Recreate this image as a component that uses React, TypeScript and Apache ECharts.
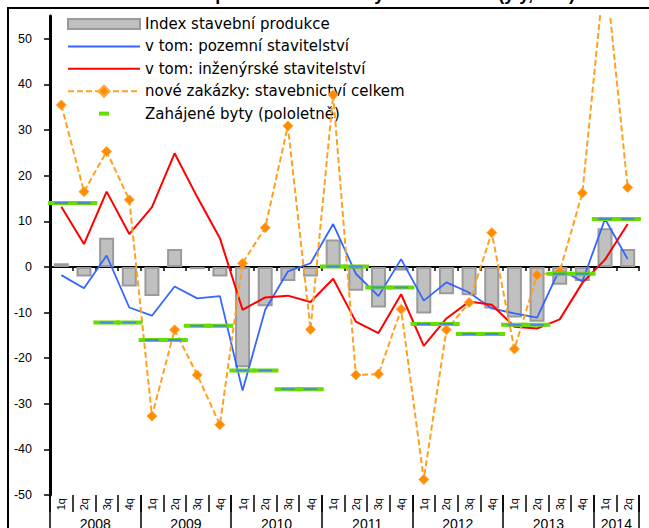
import React, { useEffect, useRef } from 'react';
import * as echarts from 'echarts';

const years = ['2008', '2009', '2010', '2011', '2012', '2013', '2014'];
const quartersPerYear = [4, 4, 4, 4, 4, 4, 2];
const quarterNames = ['1q', '2q', '3q', '4q'];

const stavebniProdukce = [0.8, -2.1, 6.4, -4.3, -6.4, 3.9, -0.5, -2.1, -22.0, -8.6, -3.1, -2.1, 6.0, -5.2, -8.9, -0.8, -10.2, -6.0, -6.2, -9.1, -11.1, -12.0, -3.9, -3.1, 8.5, 3.9];
const pozemni = [-1.8, -4.7, 2.5, -8.9, -10.7, -4.3, -6.9, -6.4, -27.1, -9.4, -1.0, 0.8, 9.4, -1.5, -6.4, 1.7, -7.4, -3.4, -5.6, -9.1, -10.2, -11.1, -0.5, -3.2, 10.5, 1.7];
const inzenyrske = [13.2, 5.0, 16.5, 7.2, 13.1, 24.9, 15.3, 6.3, -9.4, -6.7, -6.3, -7.7, -2.6, -12.0, -14.5, -6.0, -17.3, -11.3, -7.6, -8.3, -13.1, -13.5, -11.5, -3.5, 1.6, 9.4];
const noveZakazky = [35.5, 16.5, 25.3, 14.7, -32.7, -13.8, -23.7, -34.6, 0.8, 8.6, 30.9, -13.7, 37.7, -23.7, -23.5, -9.3, -46.6, -13.8, -7.8, 7.5, -18.0, -1.8, -1.0, 16.2, 66.0, 17.4];
const zahajeneBytyPololetne = [14.0, -12.2, -16.0, -12.9, -22.7, -26.8, 0.1, -4.5, -12.5, -14.7, -12.7, -1.5, 10.5];
const yTicks = [-50, -40, -30, -20, -10, 0, 10, 20, 30, 40, 50];

const names = {
  bar: 'Index stavební produkce',
  blue: 'v tom: pozemní stavitelství',
  red: 'v tom: inženýrské stavitelství',
  orange: 'nové zakázky: stavebnictví celkem',
  green: 'Zahájené byty (pololetně)',
};

export default function App() {
  const ref = useRef<HTMLDivElement>(null);
  useEffect(() => {
    if (!ref.current) return;
    const chart = echarts.init(ref.current, null, { renderer: 'svg' });

    const quarters: string[] = [];
    quartersPerYear.forEach((n) => {
      for (let i = 0; i < n; i++) quarters.push(quarterNames[i]);
    });
    const byty: number[] = [];
    zahajeneBytyPololetne.forEach((v) => { byty.push(v, v); });
    const yearBounds: number[] = [0];
    const yearCenters: number[] = [];
    let acc = 0;
    quartersPerYear.forEach((n) => {
      yearCenters.push(acc + n / 2);
      acc += n;
      yearBounds.push(acc);
    });

    const lineIcon = 'path://M0,0M72,14M0,6L72,6L72,8L0,8Z';

    const option: any = {
      animation: false,
      textStyle: { fontFamily: 'Liberation Sans' },
      grid: { left: 50, right: 10, top: 16, bottom: 33, containLabel: false, outerBoundsMode: 'none' },
      legend: {
        orient: 'vertical',
        left: 62,
        top: 11,
        itemWidth: 72,
        itemHeight: 14,
        itemGap: 6.4,
        textStyle: { fontFamily: 'DejaVu Sans', fontSize: 15, color: '#000', lineHeight: 16 },
        data: [
          { name: names.bar, icon: 'path://M0,0M72,14M0,2L72,2L72,12L0,12Z' },
          { name: names.blue, icon: lineIcon, itemStyle: { color: '#3366ff', borderWidth: 0 } },
          { name: names.red, icon: lineIcon, itemStyle: { color: '#ff0000', borderWidth: 0 } },
          { name: names.orange },
          { name: names.green, icon: 'path://M0,0M72,14M31,5L41,5L41,9L31,9Z', itemStyle: { color: '#66dd00', borderWidth: 0 } },
        ],
      },
      xAxis: [
        {
          type: 'category',
          data: quarters,
          position: 'bottom',
          axisLine: { onZero: true, lineStyle: { color: '#000', width: 2 } },
          axisTick: { show: true, length: 4, interval: 0, lineStyle: { color: '#000', width: 1.5 } },
          axisLabel: { show: false },
          splitLine: { show: false },
        },
        {
          type: 'category',
          data: quarters,
          position: 'bottom',
          axisLine: { show: false, onZero: false },
          axisTick: { show: true, length: 17, interval: 0, lineStyle: { color: '#000', width: 1.5 } },
          axisLabel: { interval: 0, rotate: 90, fontSize: 11, margin: 3, color: '#000' },
          splitLine: { show: false },
        },
        {
          type: 'value',
          min: 0,
          max: quarters.length,
          position: 'bottom',
          axisLine: { show: false, onZero: false },
          splitLine: { show: false },
          axisTick: { show: true, customValues: yearBounds, length: 33, lineStyle: { color: '#000', width: 1.5 } },
          axisLabel: {
            customValues: yearCenters,
            margin: 22,
            fontSize: 14,
            color: '#000',
            formatter: (v: number) => {
              const idx = yearCenters.findIndex((c) => Math.abs(c - v) < 0.01);
              return idx >= 0 ? years[idx] : '';
            },
          },
        },
      ],
      yAxis: {
        type: 'value',
        min: -50,
        max: 55,
        interval: 10,
        axisLine: { show: true, lineStyle: { color: '#000', width: 3 } },
        axisTick: { show: true, length: 6, customValues: yTicks, lineStyle: { color: '#000', width: 1.5 } },
        axisLabel: { customValues: yTicks, margin: 18, fontSize: 12.5, color: '#000' },
        splitLine: { show: false },
      },
      series: [
        {
          name: names.bar,
          type: 'bar',
          data: stavebniProdukce,
          barWidth: 15,
          itemStyle: { color: '#c0c0c0', borderColor: '#9a9a9a', borderWidth: 2 },
          z: 1,
        },
        {
          name: names.blue,
          type: 'line',
          data: pozemni,
          symbol: 'none',
          lineStyle: { color: '#3366ff', width: 1.8 },
          itemStyle: { color: '#3366ff' },
          z: 2,
        },
        {
          name: names.red,
          type: 'line',
          data: inzenyrske,
          symbol: 'none',
          lineStyle: { color: '#ff0000', width: 2 },
          itemStyle: { color: '#ff0000' },
          z: 3,
        },
        {
          name: names.orange,
          type: 'line',
          data: noveZakazky,
          symbol: 'diamond',
          symbolSize: 10,
          itemStyle: { color: '#ff8c00', borderColor: '#ffa940', borderWidth: 1 },
          lineStyle: { color: '#ffa020', width: 2, type: [6, 3] },
          z: 4,
        },
        {
          name: names.green,
          type: 'scatter',
          data: byty,
          symbol: 'rect',
          symbolSize: [20, 3],
          itemStyle: { color: '#4a88d8', borderColor: '#66dd00', borderWidth: 2.5, opacity: 1 },
          z: 5,
        },
      ],
      graphic: [
        {
          type: 'rect',
          shape: { x: 8, y: 8, width: 700, height: 600 },
          style: { fill: 'none', stroke: '#000', lineWidth: 2 },
          z: -1,
          silent: true,
        },
        {
          type: 'text',
          x: 575,
          y: 3,
          style: {
            text: 'Stavební produkce a zakázky stavebnictví (y/y, v %)',
            font: 'bold 18px Liberation Sans',
            fill: '#000',
            align: 'right',
            verticalAlign: 'bottom',
            textAlign: 'right',
            textVerticalAlign: 'bottom',
          },
          silent: true,
        },
      ],
    };
    chart.setOption(option);
    return () => chart.dispose();
  }, []);
  return <div ref={ref} style={{ position: 'absolute', left: 0, top: 0, width: 649, height: 528 }} />;
}
